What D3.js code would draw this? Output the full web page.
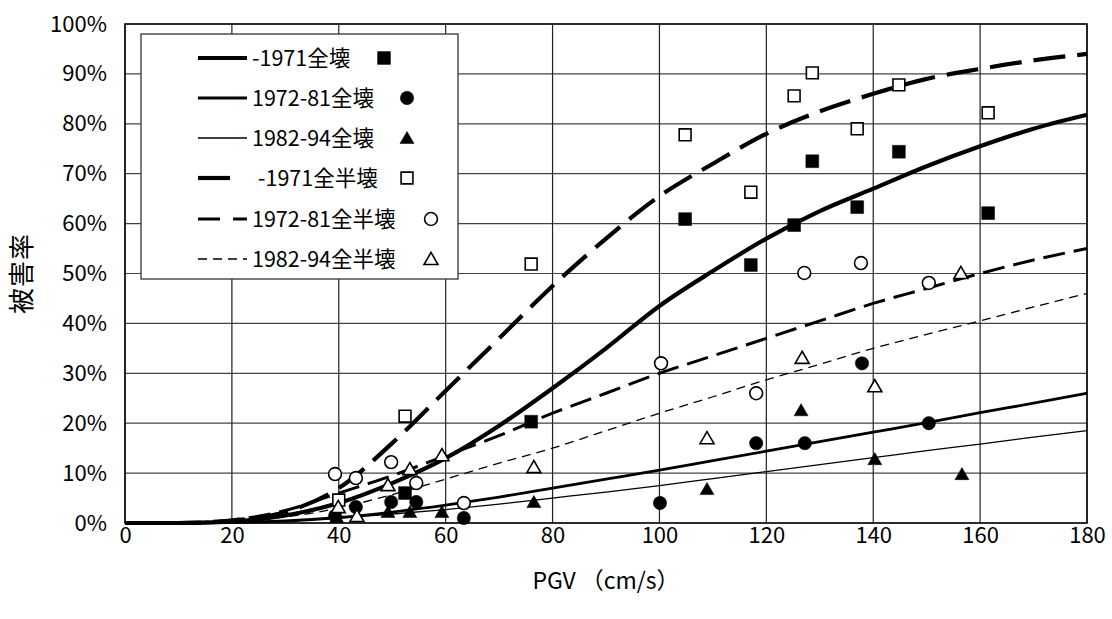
<!DOCTYPE html>
<html><head><meta charset="utf-8">
<script src="https://cdn.jsdelivr.net/npm/d3@7"></script>
<style>
body{margin:0;background:#fff;}
svg{display:block;font-family:"Noto Sans CJK JP","Noto Sans",sans-serif;}
</style></head>
<body>
<svg id="chart" width="1112" height="619"></svg>
<script>
// ---------- data ----------
const xTicks = [0,20,40,60,80,100,120,140,160,180];
const yTicks = [0,0.1,0.2,0.3,0.4,0.5,0.6,0.7,0.8,0.9,1.0];
const curveX = [0,10,20,30,40,50,60,70,80,90,100,110,120,130,140,150,160,170,180];
const curve1971Zen   = [0,0,0.3,1.5,4,8,13,19.5,27,35,43.5,50.5,57,62.5,67,71.5,75.5,79,81.8];
const curve7281Zen   = [0,0,0.1,0.4,1.1,2.2,3.6,5.2,7,8.8,10.6,12.5,14.4,16.3,18.2,20.1,22.1,24,26];
const curve8294Zen   = [0,0,0.1,0.4,1.0,1.8,2.7,3.8,5.0,6.2,7.5,8.9,10.3,11.7,13.1,14.5,15.8,17.2,18.5];
const curve1971Han   = [0,0,0.5,2.2,7,16,26.5,37,47.5,57,65.5,72,78,82.5,86,89,91,92.7,94];
const curve7281Han   = [0,0,0.6,2.5,6,9.5,13.5,17.5,22,26,30,33.5,37,40.5,44,47,50,52.7,55];
const curve8294Han   = [0,0,0.3,1.2,3,5.7,8.8,12,15,18.5,22,25.3,28.7,31.8,35,37.8,40.5,43.3,46];

const pts1971ZenX = [52.4,76,104.8,117.1,125.2,128.6,137,144.8,161.5];
const pts1971ZenY = [6.0,20.3,60.9,51.7,59.7,72.5,63.3,74.4,62.1];
const pts7281ZenX = [39.3,43.2,49.8,54.5,63.4,100.1,118.1,127.2,137.9,150.4];
const pts7281ZenY = [1.4,3.2,4.2,4.2,1.0,4.0,16.0,16.0,32.0,20.0];
const pts8294ZenX = [39.6,49.2,53.3,59.3,76.5,108.9,126.5,140.3,156.6];
const pts8294ZenY = [1.2,2.2,2.2,2.2,4.2,6.8,22.6,12.8,9.8];
const pts1971HanX = [40,52.4,76,104.8,117.1,125.2,128.6,137,144.8,161.5];
const pts1971HanY = [4.6,21.4,51.9,77.8,66.3,85.6,90.2,79,87.8,82.2];
const pts7281HanX = [39.3,43.2,49.8,54.5,63.4,100.3,118.1,127.1,137.7,150.4];
const pts7281HanY = [9.8,9.0,12.2,8.0,4.0,32.0,26.0,50.1,52.1,48.1];
const pts8294HanX = [39.9,43.4,49.2,53.3,59.3,76.5,108.9,126.7,140.3,156.4];
const pts8294HanY = [3.2,1.4,7.6,10.8,13.6,11.2,17.0,33.1,27.4,50.1];

const legendLabels = ["-1971全壊","1972-81全壊","1982-94全壊","-1971全半壊","1972-81全半壊","1982-94全半壊"];
const xTitle = "PGV （cm/s）";
const yTitle = "被害率";

// ---------- layout ----------
const svg = d3.select("#chart");
const L = 125, R = 1087, T = 24, B = 523;
const x = d3.scaleLinear().domain([0,180]).range([L,R]);
const y = d3.scaleLinear().domain([0,1]).range([B,T]);

// grid
const g = svg.append("g");
g.selectAll(".hg").data(yTicks).join("line")
  .attr("x1",L).attr("x2",R).attr("y1",d=>y(d)).attr("y2",d=>y(d))
  .attr("stroke","#444").attr("stroke-width",1.2);
g.selectAll(".vg").data(xTicks).join("line")
  .attr("x1",d=>x(d)).attr("x2",d=>x(d)).attr("y1",T).attr("y2",B)
  .attr("stroke","#222").attr("stroke-width",1.2);
svg.append("rect").attr("x",L).attr("y",T).attr("width",R-L).attr("height",B-T)
  .attr("fill","none").attr("stroke","#111").attr("stroke-width",1.6);

// axes text
const yAxis = d3.axisLeft(y).tickValues(yTicks).tickFormat(d3.format(".0%")).tickSize(0).tickPadding(18);
const ya = svg.append("g").attr("transform",`translate(${L},0)`).call(yAxis);
ya.select(".domain").remove();
ya.selectAll("text").attr("font-size",22).attr("fill","#000").attr("font-family","Noto Sans CJK JP");
const xAxis = d3.axisBottom(x).tickValues(xTicks).tickSize(0).tickPadding(4);
const xa = svg.append("g").attr("transform",`translate(0,${B})`).call(xAxis);
xa.select(".domain").remove();
xa.selectAll("text").attr("font-size",22).attr("fill","#000").attr("font-family","Noto Sans CJK JP");

svg.append("text").attr("x",(L+R)/2).attr("y",589).attr("text-anchor","middle")
  .attr("font-size",23).text(xTitle);
svg.append("text").attr("transform",`translate(31,${(T+B)/2}) rotate(-90)`)
  .attr("text-anchor","middle").attr("font-size",26).attr("letter-spacing",1).text(yTitle);

// curves
const curves = [
  {v:curve1971Zen, w:4.2, dash:null},
  {v:curve7281Zen, w:2.8, dash:null},
  {v:curve8294Zen, w:1.3, dash:null},
  {v:curve1971Han, w:4.2, dash:"32,12"},
  {v:curve7281Han, w:3.0, dash:"22,9"},
  {v:curve8294Han, w:1.3, dash:"9,6"}
];
const legendDash = [null,null,null,"32,30","22,13","9,6"];
const line = d3.line().curve(d3.curveMonotoneX).x(d=>x(d[0])).y(d=>y(d[1]/100));
curves.forEach(c=>{
  svg.append("path").datum(curveX.map((xx,i)=>[xx,c.v[i]]))
    .attr("d",line).attr("fill","none").attr("stroke","#000")
    .attr("stroke-width",c.w).attr("stroke-dasharray",c.dash);
});

// markers
const markerDefs = [
  {xs:pts1971ZenX, ys:pts1971ZenY, type:d3.symbolSquare, size:165, fill:"#000"},
  {xs:pts7281ZenX, ys:pts7281ZenY, type:d3.symbolCircle, size:140, fill:"#000"},
  {xs:pts8294ZenX, ys:pts8294ZenY, type:d3.symbolTriangle, size:85, fill:"#000"},
  {xs:pts1971HanX, ys:pts1971HanY, type:d3.symbolSquare, size:140, fill:"#fff"},
  {xs:pts7281HanX, ys:pts7281HanY, type:d3.symbolCircle, size:130, fill:"#fff"},
  {xs:pts8294HanX, ys:pts8294HanY, type:d3.symbolTriangle, size:85, fill:"#fff"}
];
function drawMarker(sel, m, cx, cy){
  const isTri = m.type===d3.symbolTriangle;
  sel.append("path").attr("d",d3.symbol().type(m.type).size(m.size)())
    .attr("transform",`translate(${cx},${cy + (isTri?1.5:0)})`)
    .attr("fill",m.fill).attr("stroke","#000").attr("stroke-width",m.fill==="#000"?0.5:1.6);
}

// legend
const lg = svg.append("g");
lg.append("rect").attr("x",141).attr("y",34).attr("width",317).attr("height",245)
  .attr("fill","#fff").attr("stroke","#333").attr("stroke-width",1.3);
const rowY = [58,98,138,178,219,259];
const markX = [384,407,407,407,431,431];
legendLabels.forEach((lab,i)=>{
  const c = curves[i];
  lg.append("line").attr("x1",198).attr("x2",247).attr("y1",rowY[i]).attr("y2",rowY[i])
    .attr("stroke","#000").attr("stroke-width",c.w).attr("stroke-dasharray",legendDash[i]);
  lg.append("text").attr("x",i===3?258:252).attr("y",rowY[i]+8).attr("font-size",21.5).text(lab);
  drawMarker(lg, markerDefs[i], markX[i], rowY[i]);
});

// data markers on top
markerDefs.forEach(m=>{
  m.xs.forEach((xx,i)=>drawMarker(svg, m, x(xx), y(m.ys[i]/100)));
});
</script>
</body></html>
